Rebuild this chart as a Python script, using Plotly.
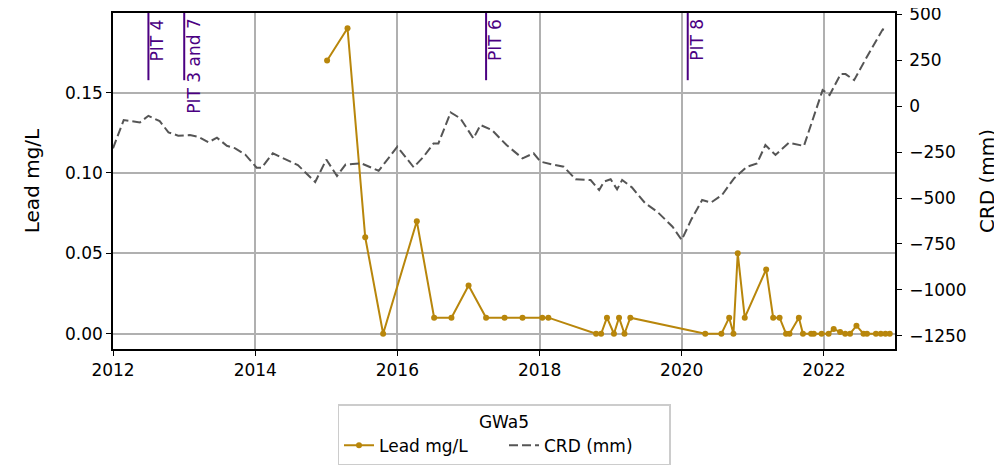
import plotly.graph_objects as go
from plotly.subplots import make_subplots

# Lead samples (GWa5)
lead_dates = [
    '2015-01-05', '2015-04-20', '2015-07-20', '2015-10-20', '2016-04-10', '2016-07-08',
    '2016-10-05', '2017-01-01', '2017-04-01', '2017-07-05', '2017-10-05', '2018-01-15',
    '2018-02-15', '2018-10-18', '2018-11-13', '2018-12-13', '2019-01-18', '2019-02-13',
    '2019-03-13', '2019-04-12', '2020-05-01', '2020-07-23', '2020-09-01', '2020-09-23',
    '2020-10-15', '2020-11-20', '2021-03-10', '2021-04-15', '2021-05-18', '2021-06-20',
    '2021-07-08', '2021-08-25', '2021-09-15', '2021-10-27', '2021-11-10', '2021-12-20',
    '2022-01-25', '2022-02-20', '2022-03-25', '2022-04-20', '2022-05-15', '2022-06-17',
    '2022-07-23', '2022-08-10', '2022-09-25', '2022-10-20', '2022-11-13', '2022-12-05',
]
lead_vals = [
    0.17, 0.19, 0.06, 0.0, 0.07, 0.01,
    0.01, 0.03, 0.01, 0.01, 0.01, 0.01,
    0.01, 0.0, 0.0, 0.01, 0.0, 0.01,
    0.0, 0.01, 0.0, 0.0, 0.01, 0.0,
    0.05, 0.01, 0.04, 0.01, 0.01, 0.0,
    0.0, 0.01, 0.0, 0.0, 0.0, 0.0,
    0.0, 0.003, 0.001, 0.0, 0.0, 0.005,
    0.0, 0.0, 0.0, 0.0, 0.0, 0.0,
]

# cumulative rainfall deviation
crd_dates = [
    '2012-01-01', '2012-02-25', '2012-05-18', '2012-07-01', '2012-08-28', '2012-10-12',
    '2012-12-01', '2013-01-30', '2013-03-15', '2013-05-05', '2013-06-18', '2013-08-08',
    '2013-09-20', '2013-11-10', '2014-01-08', '2014-02-03', '2014-04-01', '2014-08-08',
    '2014-11-05', '2015-01-01', '2015-02-25', '2015-04-10', '2015-07-01', '2015-09-27',
    '2016-01-01', '2016-03-25', '2016-05-15', '2016-07-05', '2016-07-30', '2016-10-01',
    '2016-11-20', '2017-01-26', '2017-03-03', '2017-05-01', '2017-07-15', '2017-10-05',
    '2017-12-01', '2018-01-05', '2018-03-05', '2018-05-05', '2018-07-05', '2018-09-20',
    '2018-11-03', '2018-11-28', '2019-01-01', '2019-02-03', '2019-03-01', '2019-04-20',
    '2019-06-28', '2019-08-28', '2019-11-15', '2020-01-01', '2020-02-18', '2020-04-15',
    '2020-05-30', '2020-07-26', '2020-09-26', '2020-12-01', '2021-01-22', '2021-03-06',
    '2021-04-27', '2021-07-05', '2021-09-20', '2021-11-03', '2021-12-25', '2022-01-30',
    '2022-03-28', '2022-04-22', '2022-06-05', '2022-08-10', '2022-10-30', '2022-11-25',
]
crd_vals = [
    -230, -76, -89, -53, -82, -143,
    -161, -158, -167, -197, -172, -216,
    -230, -263, -335, -335, -257, -321,
    -413, -291, -380, -318, -312, -352,
    -221, -333, -275, -203, -203, -35,
    -67, -176, -103, -130, -212, -284,
    -257, -302, -317, -330, -398, -402,
    -457, -411, -398, -453, -402, -442,
    -529, -574, -656, -728, -620, -511,
    -525, -484, -393, -330, -312, -212,
    -266, -199, -217, -76, 87, 60,
    174, 174, 141, 268, 417, 409,
]

pit_dates = ['2012-07-01', '2013-01-01', '2017-04-01', '2020-02-01']
pit_labels = ['PIT 4', 'PIT 3 and 7', 'PIT 6', 'PIT 8']

font = "DejaVu Sans"
gold = "#B8860B"
purple = "#4B0082"

fig = make_subplots(specs=[[{"secondary_y": True}]])

fig.add_trace(go.Scatter(x=lead_dates, y=lead_vals, name="Lead mg/L", mode="lines+markers",
                         line=dict(color=gold, width=2), marker=dict(size=6, color=gold)),
              secondary_y=False)
fig.add_trace(go.Scatter(x=crd_dates, y=crd_vals, name="CRD (mm)", mode="lines",
                         line=dict(color="#555555", width=2, dash="9px,4px")),
              secondary_y=True)

for d, lab in zip(pit_dates, pit_labels):
    fig.add_shape(type="line", xref="x", yref="y domain", x0=d, x1=d, y0=0.8, y1=1,
                  line=dict(color=purple, width=2))
    fig.add_annotation(x=d, xref="x", y=1, yref="y domain", text=lab, textangle=-90,
                       showarrow=False, xanchor="left", yanchor="top", xshift=-3, yshift=-4,
                       font=dict(color=purple, size=17, family=font))

# page body has an 8px margin, so the figure is 8px smaller than the window
fig.update_layout(
    width=994, height=464,
    margin=dict(l=105, r=107, t=5, b=123),
    plot_bgcolor="white", paper_bgcolor="white",
    font=dict(family=font, size=17, color="black"),
    showlegend=True,
    legend=dict(orientation="h", x=0.5, xanchor="center", y=-0.164, yanchor="top",
                title=dict(text="GWa5", side="top center", font=dict(size=17)),
                bordercolor="#cccccc", borderwidth=1.5, bgcolor="white",
                font=dict(size=17), entrywidth=120),
)
fig.update_xaxes(domain=[0, 1], range=['2012-01-01', '2023-01-01'], dtick="M24",
                 tick0='2012-01-01', tickformat="%Y",
                 showgrid=True, gridcolor="#b0b0b0", gridwidth=1.5,
                 showline=True, linecolor="black", linewidth=1.5, mirror=True,
                 ticks="outside", ticklen=5, tickcolor="black", zeroline=False,
                 automargin=False, ticklabeloverflow="allow")
fig.update_yaxes(range=[-0.0095, 0.1995], tickvals=[0, 0.05, 0.1, 0.15], tickformat=".2f",
                 title=dict(text="Lead mg/L", standoff=20),
                 showgrid=True, gridcolor="#b0b0b0", gridwidth=1.5,
                 showline=True, linecolor="black", linewidth=1.5,
                 ticks="outside", ticklen=5, tickcolor="black", zeroline=False,
                 automargin=False, ticklabeloverflow="allow", secondary_y=False)
fig.update_yaxes(range=[-1321, 506], tickvals=[-1250, -1000, -750, -500, -250, 0, 250, 500],
                 title=dict(text="CRD (mm)", standoff=14),
                 showgrid=False, showline=True, linecolor="black", linewidth=1.5,
                 ticks="outside", ticklen=5, tickcolor="black", zeroline=False,
                 ticklabelstandoff=4,
                 automargin=False, ticklabeloverflow="allow", secondary_y=True)

fig.write_html("out.html", config={"displayModeBar": False})
